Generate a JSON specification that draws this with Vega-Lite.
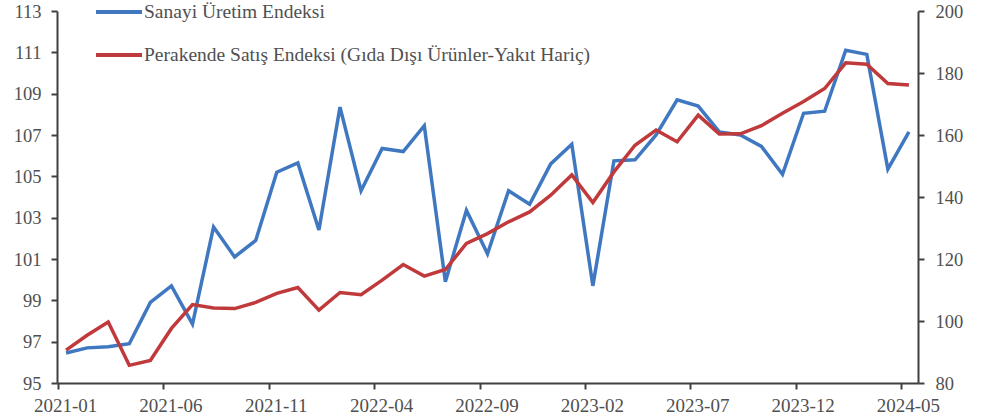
{
  "$schema": "https://vega.github.io/schema/vega-lite/v6.json",
  "autosize": {"type": "none"},
  "width": 861,
  "height": 372,
  "padding": {"left": 57, "top": 11, "right": 63, "bottom": 34},
  "background": "white",
  "config": {
    "font": "Liberation Serif",
    "view": {"stroke": null},
    "axis": {
      "grid": false,
      "domainColor": "#404040",
      "domainWidth": 2,
      "tickColor": "#404040",
      "tickWidth": 2,
      "tickSize": 6,
      "labelColor": "#505050",
      "title": null
    }
  },
  "data": {
    "values": [
      {"ay": "2021-01", "sanayi": 96.45, "perakende": 90.6},
      {"ay": "2021-02", "sanayi": 96.7, "perakende": 95.4},
      {"ay": "2021-03", "sanayi": 96.75, "perakende": 99.7},
      {"ay": "2021-04", "sanayi": 96.9, "perakende": 85.7},
      {"ay": "2021-05", "sanayi": 98.9, "perakende": 87.3},
      {"ay": "2021-06", "sanayi": 99.7, "perakende": 97.6},
      {"ay": "2021-07", "sanayi": 97.85, "perakende": 105.3},
      {"ay": "2021-08", "sanayi": 102.55, "perakende": 104.2},
      {"ay": "2021-09", "sanayi": 101.1, "perakende": 104.0},
      {"ay": "2021-10", "sanayi": 101.9, "perakende": 106.0},
      {"ay": "2021-11", "sanayi": 105.2, "perakende": 108.9},
      {"ay": "2021-12", "sanayi": 105.65, "perakende": 110.8},
      {"ay": "2022-01", "sanayi": 102.4, "perakende": 103.5},
      {"ay": "2022-02", "sanayi": 108.35, "perakende": 109.2},
      {"ay": "2022-03", "sanayi": 104.3, "perakende": 108.5},
      {"ay": "2022-04", "sanayi": 106.35, "perakende": 113.2},
      {"ay": "2022-05", "sanayi": 106.2, "perakende": 118.2},
      {"ay": "2022-06", "sanayi": 107.45, "perakende": 114.5},
      {"ay": "2022-07", "sanayi": 99.9, "perakende": 116.6},
      {"ay": "2022-08", "sanayi": 103.35, "perakende": 125.0},
      {"ay": "2022-09", "sanayi": 101.25, "perakende": 128.2},
      {"ay": "2022-10", "sanayi": 104.3, "perakende": 132.0},
      {"ay": "2022-11", "sanayi": 103.65, "perakende": 135.2},
      {"ay": "2022-12", "sanayi": 105.6, "perakende": 140.6},
      {"ay": "2023-01", "sanayi": 106.55, "perakende": 147.1},
      {"ay": "2023-02", "sanayi": 99.7, "perakende": 138.2},
      {"ay": "2023-03", "sanayi": 105.75, "perakende": 148.1},
      {"ay": "2023-04", "sanayi": 105.8, "perakende": 156.7},
      {"ay": "2023-05", "sanayi": 107.0, "perakende": 161.6},
      {"ay": "2023-06", "sanayi": 108.7, "perakende": 157.8},
      {"ay": "2023-07", "sanayi": 108.4, "perakende": 166.4},
      {"ay": "2023-08", "sanayi": 107.15, "perakende": 160.3},
      {"ay": "2023-09", "sanayi": 107.0, "perakende": 160.4},
      {"ay": "2023-10", "sanayi": 106.45, "perakende": 163.0},
      {"ay": "2023-11", "sanayi": 105.1, "perakende": 167.0},
      {"ay": "2023-12", "sanayi": 108.05, "perakende": 170.8},
      {"ay": "2024-01", "sanayi": 108.15, "perakende": 175.0},
      {"ay": "2024-02", "sanayi": 111.1, "perakende": 183.3},
      {"ay": "2024-03", "sanayi": 110.9, "perakende": 182.8},
      {"ay": "2024-04", "sanayi": 105.35, "perakende": 176.6},
      {"ay": "2024-05", "sanayi": 107.15, "perakende": 176.1}
    ]
  },
  "encoding": {
    "x": {
      "field": "ay",
      "type": "ordinal",
      "sort": null,
      "scale": {"type": "point", "padding": 0.43},
      "axis": {
        "values": ["2021-01", "2021-06", "2021-11", "2022-04", "2022-09", "2023-02", "2023-07", "2023-12", "2024-05"],
        "labelAngle": 0,
        "tickOffset": -8,
        "labelOffset": 7,
        "labelPadding": 7,
        "labelFont": "Liberation Serif",
        "labelFontSize": 19,
        "labelColor": "#505050",
        "grid": false
      }
    }
  },
  "layer": [
    {
      "mark": {"type": "line", "strokeWidth": 3.5},
      "encoding": {
        "y": {
          "field": "sanayi",
          "type": "quantitative",
          "scale": {"domain": [95, 113], "nice": false, "zero": false},
          "axis": {
            "orient": "left",
            "values": [95, 97, 99, 101, 103, 105, 107, 109, 111, 113],
            "labelPadding": 10,
            "labelFont": "Liberation Serif",
            "labelFontSize": 18.5,
            "labelColor": "#505050",
            "grid": false
          }
        },
        "color": {
          "datum": "Sanayi Üretim Endeksi",
          "type": "nominal",
          "scale": {
            "domain": ["Sanayi Üretim Endeksi", "Perakende Satış Endeksi (Gıda Dışı Ürünler-Yakıt Hariç)"],
            "range": ["#3F78C1", "#C0393B"]
          },
          "legend": {
            "orient": "none",
            "legendX": 37,
            "legendY": -24,
            "title": null,
            "symbolType": "stroke",
            "symbolSize": 2116,
            "symbolStrokeWidth": 4,
            "labelFont": "Liberation Serif",
            "labelFontSize": 19.5,
            "labelColor": "#505050",
            "labelOffset": 0,
            "rowPadding": 8,
            "labelLimit": 800
          }
        }
      }
    },
    {
      "mark": {"type": "line", "strokeWidth": 3.5},
      "encoding": {
        "y": {
          "field": "perakende",
          "type": "quantitative",
          "scale": {"domain": [80, 200], "nice": false, "zero": false},
          "axis": {
            "orient": "right",
            "values": [80, 100, 120, 140, 160, 180, 200],
            "labelPadding": 11,
            "labelFont": "Liberation Serif",
            "labelFontSize": 18.5,
            "labelColor": "#505050",
            "grid": false
          }
        },
        "color": {"datum": "Perakende Satış Endeksi (Gıda Dışı Ürünler-Yakıt Hariç)", "type": "nominal"}
      }
    }
  ],
  "resolve": {"scale": {"y": "independent"}}
}
